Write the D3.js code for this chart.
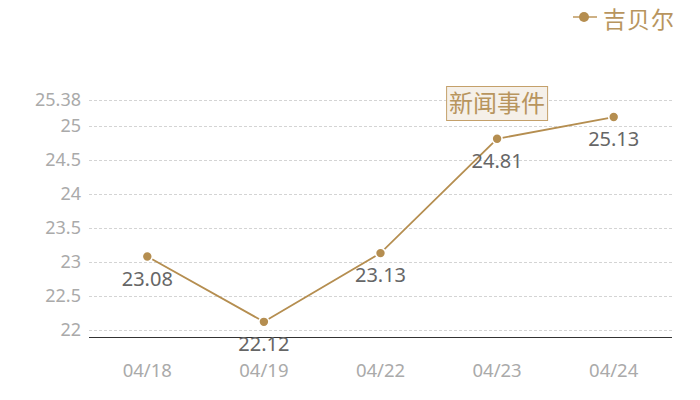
<!DOCTYPE html>
<html><head><meta charset="utf-8">
<script src="https://cdn.jsdelivr.net/npm/d3@7/dist/d3.min.js"></script>
<style>body{margin:0;background:#fff}svg{display:block}</style>
</head><body><svg id="c" width="700" height="400"></svg>
<script>
const categories = ["04/18","04/19","04/22","04/23","04/24"];
const values = [23.08, 22.12, 23.13, 24.81, 25.13];
const yTicks = [22, 22.5, 23, 23.5, 24, 24.5, 25, 25.38];
const seriesName = "吉贝尔";
const eventLabel = "新闻事件";
const eventCategory = "04/23";

const svg = d3.select("#c");
const gold = "#b58e50";
const font = "'Noto Sans','Noto Sans CJK SC',sans-serif";
const x = d3.scaleBand().domain(categories).range([89, 672]);
const y = d3.scaleLinear().domain([21.897, 25.38]).range([337, 100]);

// grid
svg.append("g").selectAll("line").data(yTicks).join("line")
  .attr("x1", 89).attr("x2", 672)
  .attr("y1", d => Math.round(y(d)) + 0.5).attr("y2", d => Math.round(y(d)) + 0.5)
  .attr("stroke", "#d4d4d4").attr("stroke-dasharray", "3,2").attr("stroke-width", 1);

// y labels
svg.append("g").selectAll("text").data(yTicks).join("text")
  .attr("x", 81).attr("y", d => y(d)).attr("dy", "0.35em")
  .attr("text-anchor", "end").attr("font-family", font).attr("font-size", 18)
  .attr("fill", "#aaaaaa").text(d => d);

// x axis
svg.append("line").attr("x1", 89).attr("x2", 672).attr("y1", 337.5).attr("y2", 337.5)
  .attr("stroke", "#333").attr("stroke-width", 1);
svg.append("g").selectAll("text").data(categories).join("text")
  .attr("x", d => x(d) + x.bandwidth() / 2).attr("y", 371).attr("dy", "0.35em")
  .attr("text-anchor", "middle").attr("font-family", font).attr("font-size", 18.5)
  .attr("fill", "#aaaaaa").text(d => d);

const data = categories.map((c, i) => ({c, v: values[i]}));
const cx = d => x(d.c) + x.bandwidth() / 2;

svg.append("path").datum(data)
  .attr("d", d3.line().x(cx).y(d => y(d.v)))
  .attr("fill", "none").attr("stroke", gold).attr("stroke-width", 1.8);

svg.append("g").selectAll("circle").data(data).join("circle")
  .attr("cx", cx).attr("cy", d => y(d.v)).attr("r", 5).attr("fill", gold)
  .attr("stroke", "#fff").attr("stroke-width", 1.6);

svg.append("g").selectAll("text").data(data).join("text")
  .attr("x", cx).attr("y", d => y(d.v) + 22).attr("dy", "0.35em")
  .attr("text-anchor", "middle").attr("font-family", font).attr("font-size", 20)
  .attr("fill", "#666666").text(d => d.v.toFixed(2));

// event marker
const ex = x(eventCategory) + x.bandwidth() / 2;
svg.append("rect").attr("x", ex - 50.5).attr("y", 86.5).attr("width", 101).attr("height", 34)
  .attr("fill", "#f5f0e9").attr("stroke", "#c4a06a").attr("stroke-width", 1);
svg.append("text").attr("x", ex).attr("y", 104).attr("dy", "0.35em")
  .attr("text-anchor", "middle").attr("font-family", "'Noto Sans CJK SC',sans-serif")
  .attr("font-size", 24).attr("fill", "#b8955e").text(eventLabel);

// legend
svg.append("line").attr("x1", 573).attr("x2", 597).attr("y1", 17).attr("y2", 17)
  .attr("stroke", "#c9a978").attr("stroke-width", 1.8);
svg.append("circle").attr("cx", 584).attr("cy", 17).attr("r", 5).attr("fill", gold);
svg.append("text").attr("x", 603).attr("y", 27.5)
  .attr("font-family", "'Noto Sans CJK SC',sans-serif").attr("font-size", 23)
  .attr("letter-spacing", 1)
  .attr("fill", "#b8955e").text(seriesName);
</script></body></html>
